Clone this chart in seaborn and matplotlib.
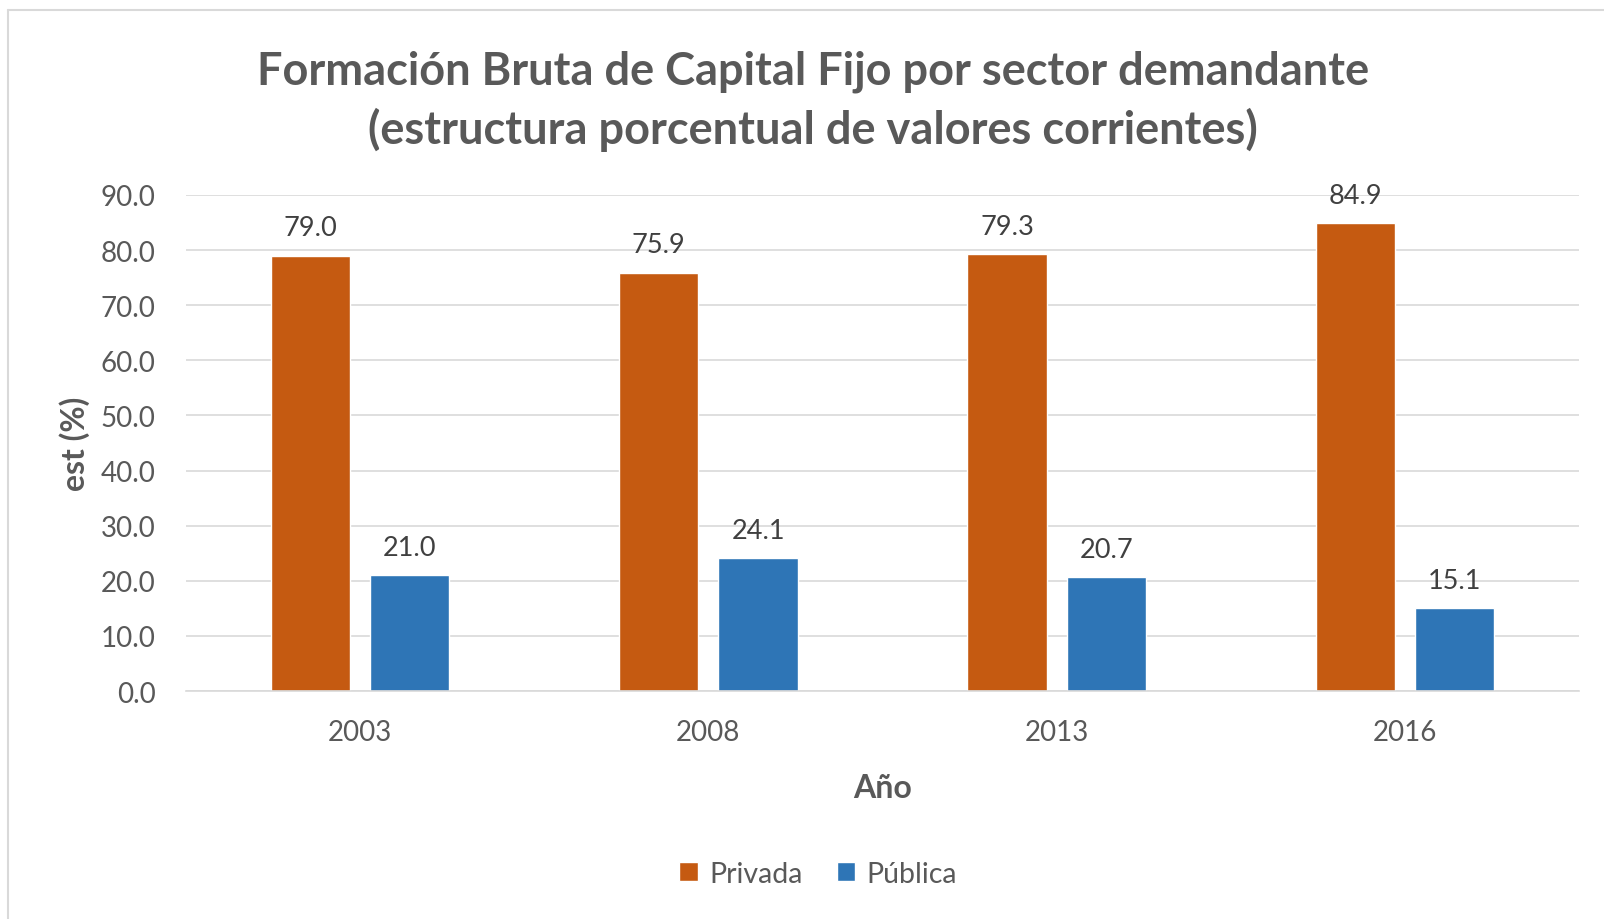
import pandas as pd
import seaborn as sns
import matplotlib.pyplot as plt
from matplotlib.lines import Line2D
from matplotlib.patches import Patch

# data
years = ['2003', '2008', '2013', '2016']
privada = [79.0, 75.9, 79.3, 84.9]
publica = [21.0, 24.1, 20.7, 15.1]
series = ['Privada', 'Pública']
colors = ['#C55A11', '#2E75B6']

df = pd.DataFrame({
    'Año': years * 2,
    'valor': privada + publica,
    'sector': [series[0]] * len(years) + [series[1]] * len(years),
})

sns.set_style('white')
plt.rcParams['font.family'] = ['Lato', 'DejaVu Sans']

fig = plt.figure(figsize=(16.04, 9.2), dpi=100)
ax = fig.add_axes([0.116, 0.2478, 0.8684, 0.5392])

sns.barplot(data=df, x='Año', y='valor', hue='sector', palette=colors,
            width=0.57, gap=0.2, saturation=1, ax=ax, legend=False)

for cont in ax.containers:
    ax.bar_label(cont, fmt='%.1f', padding=11, fontsize=19.5, color='#404040')

ax.set_ylim(0, 90)
ax.set_xlim(-0.5, 3.5)
ax.set_yticks(range(0, 91, 10))
ax.set_yticklabels([f'{v:.1f}' for v in range(0, 91, 10)])
ax.yaxis.grid(True, color='#D9D9D9', lw=1.2)
ax.set_axisbelow(True)
for s in ['top', 'right', 'left']:
    ax.spines[s].set_visible(False)
ax.spines['bottom'].set_color('#D9D9D9')
ax.spines['bottom'].set_linewidth(1.2)
ax.tick_params(axis='both', length=0, labelsize=20, labelcolor='#595959')
ax.tick_params(axis='y', pad=22)
ax.tick_params(axis='x', pad=20)

ax.set_ylabel('est (%)', fontsize=23, fontweight='bold', color='#595959')
ax.set_xlabel('Año', fontsize=23, fontweight='bold', color='#595959')
ax.yaxis.set_label_coords(-0.069, 0.5)
ax.xaxis.set_label_coords(0.5, -0.165)

fig.text(0.507, 0.89,
         'Formación Bruta de Capital Fijo por sector demandante\n'
         '(estructura porcentual de valores corrientes)',
         ha='center', va='center', fontsize=32.5, fontweight='bold',
         color='#595959', linespacing=1.4)

handles = [Patch(facecolor=c, label=l) for c, l in zip(colors, series)]
fig.legend(handles=handles, loc='center', bbox_to_anchor=(0.51, 0.049), ncol=2,
           frameon=False, fontsize=20.5, labelcolor='#595959',
           handlelength=0.65, handleheight=0.65, handletextpad=0.4, columnspacing=1.2)

# chart frame (left and top edges visible in the reference)
fig.add_artist(Line2D([8 / 1604, 8 / 1604], [0, 1 - 11 / 920], color='#D9D9D9', lw=1.5))
fig.add_artist(Line2D([8 / 1604, 1], [1 - 11 / 920, 1 - 11 / 920], color='#D9D9D9', lw=1.5))

fig.savefig('out.png', dpi=100)
